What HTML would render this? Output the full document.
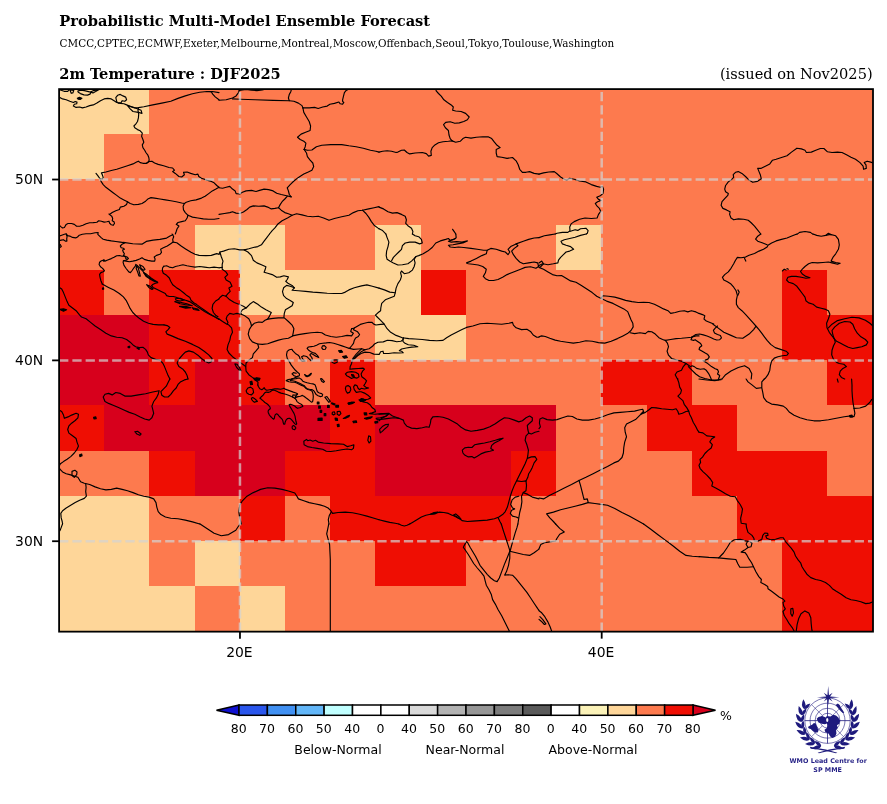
<!DOCTYPE html>
<html lang="en"><head><meta charset="utf-8"><title>Probabilistic Multi-Model Ensemble Forecast</title>
<style>html,body{margin:0;padding:0;background:#fff}svg{display:block}.sb{font-family:"DejaVu Serif","Liberation Serif",serif;font-weight:bold;font-size:14.58px;fill:#000}.sr{font-family:"DejaVu Serif","Liberation Serif",serif;font-size:14.58px;fill:#000}.ss{font-family:"DejaVu Serif","Liberation Serif",serif;font-size:10.4px;fill:#000}.tk{font-family:"DejaVu Sans","Liberation Sans",sans-serif;font-size:13.9px;fill:#000}.cb{font-family:"DejaVu Sans","Liberation Sans",sans-serif;font-size:12.5px;fill:#000}.lg{font-family:"DejaVu Sans","Liberation Sans",sans-serif;font-weight:bold;font-size:6.4px;fill:#231f85}</style></head><body>
<svg width="887" height="804" viewBox="0 0 887 804">
<rect width="887" height="804" fill="#fff"/>
<text class="sb" x="59.3" y="26" style="font-size:14.62px">Probabilistic Multi-Model Ensemble Forecast</text>
<text class="ss" x="59.6" y="47">CMCC,CPTEC,ECMWF,Exeter,Melbourne,Montreal,Moscow,Offenbach,Seoul,Tokyo,Toulouse,Washington</text>
<text class="sb" x="59.3" y="78.7">2m Temperature : DJF2025</text>
<text class="sr" x="872.6" y="78.7" text-anchor="end">(issued on Nov2025)</text>
<g shape-rendering="crispEdges">
<rect x="59.1" y="89.1" width="813.9" height="542.55" fill="#fd7a4e"/>
<rect x="59.10" y="88.90" width="90.38" height="45.20" fill="#fed699"/>
<rect x="59.10" y="134.10" width="45.19" height="45.20" fill="#fed699"/>
<rect x="194.67" y="224.50" width="90.38" height="45.20" fill="#fed699"/>
<rect x="375.43" y="224.50" width="45.19" height="45.20" fill="#fed699"/>
<rect x="556.19" y="224.50" width="45.19" height="45.20" fill="#fed699"/>
<rect x="59.10" y="269.70" width="45.19" height="45.20" fill="#ef0e03"/>
<rect x="149.48" y="269.70" width="90.38" height="45.20" fill="#ef0e03"/>
<rect x="239.86" y="269.70" width="180.76" height="45.20" fill="#fed699"/>
<rect x="420.62" y="269.70" width="45.19" height="45.20" fill="#ef0e03"/>
<rect x="782.14" y="269.70" width="45.19" height="45.20" fill="#ef0e03"/>
<rect x="59.10" y="314.90" width="90.38" height="45.20" fill="#d7001c"/>
<rect x="149.48" y="314.90" width="90.38" height="45.20" fill="#ef0e03"/>
<rect x="375.43" y="314.90" width="90.38" height="45.20" fill="#fed699"/>
<rect x="782.14" y="314.90" width="90.38" height="45.20" fill="#ef0e03"/>
<rect x="59.10" y="360.10" width="90.38" height="45.20" fill="#d7001c"/>
<rect x="149.48" y="360.10" width="45.19" height="45.20" fill="#ef0e03"/>
<rect x="194.67" y="360.10" width="45.19" height="45.20" fill="#d7001c"/>
<rect x="239.86" y="360.10" width="45.19" height="45.20" fill="#ef0e03"/>
<rect x="330.24" y="360.10" width="45.19" height="45.20" fill="#ef0e03"/>
<rect x="601.38" y="360.10" width="90.38" height="45.20" fill="#ef0e03"/>
<rect x="827.33" y="360.10" width="45.19" height="45.20" fill="#ef0e03"/>
<rect x="59.10" y="405.30" width="45.19" height="45.20" fill="#ef0e03"/>
<rect x="104.29" y="405.30" width="225.95" height="45.20" fill="#d7001c"/>
<rect x="330.24" y="405.30" width="45.19" height="45.20" fill="#ef0e03"/>
<rect x="375.43" y="405.30" width="180.76" height="45.20" fill="#d7001c"/>
<rect x="646.57" y="405.30" width="90.38" height="45.20" fill="#ef0e03"/>
<rect x="149.48" y="450.50" width="45.19" height="45.20" fill="#ef0e03"/>
<rect x="194.67" y="450.50" width="90.38" height="45.20" fill="#d7001c"/>
<rect x="285.05" y="450.50" width="90.38" height="45.20" fill="#ef0e03"/>
<rect x="375.43" y="450.50" width="135.57" height="45.20" fill="#d7001c"/>
<rect x="511.00" y="450.50" width="45.19" height="45.20" fill="#ef0e03"/>
<rect x="691.76" y="450.50" width="135.57" height="45.20" fill="#ef0e03"/>
<rect x="59.10" y="495.70" width="90.38" height="45.20" fill="#fed699"/>
<rect x="239.86" y="495.70" width="45.19" height="45.20" fill="#ef0e03"/>
<rect x="330.24" y="495.70" width="180.76" height="45.20" fill="#ef0e03"/>
<rect x="736.95" y="495.70" width="135.57" height="45.20" fill="#ef0e03"/>
<rect x="59.10" y="540.90" width="90.38" height="45.20" fill="#fed699"/>
<rect x="194.67" y="540.90" width="45.19" height="45.20" fill="#fed699"/>
<rect x="375.43" y="540.90" width="90.38" height="45.20" fill="#ef0e03"/>
<rect x="782.14" y="540.90" width="90.38" height="45.20" fill="#ef0e03"/>
<rect x="59.10" y="586.10" width="135.57" height="45.20" fill="#fed699"/>
<rect x="239.86" y="586.10" width="45.19" height="45.20" fill="#fed699"/>
<rect x="782.14" y="586.10" width="90.38" height="45.20" fill="#ef0e03"/>
</g>
<clipPath id="mc"><rect x="59.1" y="89.1" width="813.9" height="542.55"/></clipPath>
<g clip-path="url(#mc)" fill="none" stroke="#000" stroke-width="1.15" stroke-linejoin="round" stroke-linecap="round">
<path d="M59.0 97.1L62.6 98.9L66.2 99.8L69.8 101.3L73.4 102.5L75.2 101.6L77.0 102.0L76.7 103.8L74.3 104.3L73.4 106.1L76.1 107.4L79.7 107.0L82.4 107.9L86.1 107.0L89.7 105.6L93.3 104.9L96.9 103.1L100.5 100.7L104.1 98.9L107.7 98.4L111.3 98.9L114.9 101.3L116.7 102.5L120.3 103.4L123.9 103.8L126.6 104.9L128.4 105.6L131.2 107.0L134.8 107.9L138.4 107.6L143.8 106.7L152.8 104.9L161.8 103.1L170.8 101.3L178.0 98.4L185.3 95.9L192.5 93.7L199.7 92.2L206.9 91.5L211.4 91.9L212.7 94.1L215.2 96.9L219.0 99.8"/>
<path d="M206.9 91.5L212.3 91.5L219.0 92.6"/>
<path d="M116.4 100.2L115.8 97.7L117.6 95.3L120.3 94.4L123.0 95.9L125.7 97.1L126.6 99.8L124.8 101.3L122.1 100.7L121.2 102.5L118.5 103.1L116.7 101.6Z"/>
<path d="M127.5 105.6L130.2 108.8L133.0 111.5L138.4 112.4L142.0 113.4L141.1 110.3L136.6 108.5L132.1 106.7Z"/>
<path d="M138.4 107.9L138.0 110.6L138.7 114.3L138.4 117.9L137.5 121.5L135.7 124.2L133.9 126.0L134.8 127.8L137.5 129.6L140.2 130.8L142.3 133.2L141.6 136.3L142.9 139.5L143.8 142.2L142.3 144.9L142.9 147.6L144.7 150.3L145.9 152.5L147.7 154.8L148.8 157.5L149.2 160.2L147.7 162.6L146.5 163.3"/>
<path d="M96.0 173.4L97.8 175.6L99.6 178.3L102.3 179.2L103.2 177.4L102.3 174.7L101.4 172.9L105.9 172.0L111.3 170.5L116.7 169.3L122.1 167.5L127.5 165.7L133.0 163.9L136.6 162.1L138.4 161.2L140.2 162.6L142.9 163.3L146.5 163.3L149.2 161.5L151.9 161.2L154.6 163.0L158.2 164.4L163.6 165.7L169.0 167.5L172.6 168.0L174.4 170.2L172.6 171.6L175.3 173.4L178.9 176.5L181.7 177.0L184.4 174.7L183.5 172.3L187.1 172.0L190.7 173.4L195.2 174.7L197.9 174.1L198.8 176.5L201.5 178.3L206.9 180.1L211.4 181.4L214.1 182.8L216.8 185.5L219.0 187.3"/>
<path d="M99.6 178.3L101.4 181.9L103.2 184.6L105.9 187.3L109.5 190.0L113.1 192.7L116.7 195.4L120.3 198.1L123.9 199.9L127.5 201.7L130.2 203.5L133.9 204.8L138.4 204.4L142.0 203.5L145.6 201.2L148.3 198.7L151.0 197.6L154.6 198.1L160.0 199.0L165.4 199.9L170.8 200.8L176.2 201.7L181.7 203.0L184.4 203.5"/>
<path d="M219.0 187.3L215.9 189.1L212.3 190.9L208.7 193.6L205.1 196.3L201.5 198.1L196.1 199.9L190.7 200.8L186.2 202.3L184.4 203.5L183.1 206.2L183.5 209.9L185.3 212.6L188.0 215.3L192.5 217.1L197.9 218.0L203.3 218.9L208.7 219.2L214.1 219.2L219.0 218.5"/>
<path d="M188.0 215.3L187.1 218.0L185.3 220.7L181.7 221.6L178.0 222.5L176.2 224.3L178.9 226.1L177.1 228.8L176.2 231.5L175.3 234.0"/>
<path d="M127.5 201.7L126.6 204.4L123.9 206.2L120.3 207.1L119.4 209.5L115.8 210.8L112.2 212.6L109.5 214.4"/>
<path d="M219.0 100.2L226.2 99.8L232.5 98.0L236.1 95.9L238.5 92.6L239.2 90.4L240.3 89.5"/>
<path d="M239.2 90.4L246.1 89.5L251.5 90.1L256.9 90.6L262.3 89.9L265.9 89.0"/>
<path d="M232.5 98.9L240.6 99.3L255.1 99.8L273.1 100.4L289.3 100.7L293.9 101.3L298.4 103.1L302.0 105.6L302.9 107.9"/>
<path d="M289.3 100.7L288.4 98.0L289.3 94.4L290.8 91.7L291.5 89.0"/>
<path d="M302.9 107.9L309.2 107.9L314.6 107.4L318.2 108.5L322.7 107.0L327.2 106.1L329.9 104.3L334.4 103.4L338.9 102.0L340.2 103.8L342.6 104.2L343.8 102.5L342.6 101.3L342.6 99.8L343.5 96.2L344.4 92.6L346.2 90.4L348.9 89.0"/>
<path d="M302.9 107.9L303.8 112.4L306.5 117.0L309.2 121.5L310.6 126.0L310.1 130.5L305.6 132.3L301.1 134.1L297.5 137.3L300.2 139.5L303.8 141.3L305.9 143.1L305.2 146.7L304.1 149.4"/>
<path d="M304.1 149.4L307.4 150.3L311.9 150.0L316.4 146.7L321.8 145.3L330.8 144.6L341.7 144.6L348.9 145.8L356.1 146.7L363.3 148.2L370.5 150.3L375.9 151.2L379.0 152.1"/>
<path d="M304.1 149.4L306.5 153.0L307.4 156.6L310.1 160.2L312.8 163.0L313.7 166.6L311.9 170.2L308.3 172.0L303.8 174.1L298.4 177.4L293.9 181.0L290.2 184.6L287.2 187.8L288.4 190.9L289.3 194.5L291.2 196.9"/>
<path d="M219.0 187.8L222.6 188.2L226.2 187.3L229.8 186.4L232.5 189.1L235.2 190.9L236.1 193.6L239.7 194.0L242.4 192.2L246.1 190.9L251.5 190.4L256.0 191.5L259.6 190.4L264.1 189.1L268.6 189.6L273.1 190.9L276.7 193.3L281.2 194.5L286.6 195.8L291.2 196.9"/>
<path d="M287.2 196.3L284.8 199.0L282.1 201.7L280.3 204.4L278.5 207.7"/>
<path d="M219.0 214.4L224.4 213.5L229.8 212.6L232.5 211.7L236.1 213.1L239.7 213.5L243.4 212.0L247.0 209.5L249.7 207.1L253.3 205.9L258.7 206.2L264.1 205.9L267.7 207.1L271.3 208.9L274.9 208.4L278.5 207.7"/>
<path d="M278.5 207.7L281.2 210.2L284.8 212.6L288.4 213.8L292.1 215.3L296.6 213.8L302.0 214.9L307.4 216.2L312.8 216.7L318.2 216.2L323.6 218.0L329.0 220.3L334.4 218.5L341.7 216.7L348.9 215.3L353.4 212.6L357.9 210.8L362.4 210.2L368.7 208.9L374.1 207.7L379.0 206.6"/>
<path d="M292.1 215.3L287.5 218.0L282.1 220.7L277.6 224.3L274.9 227.9L272.2 230.6L269.5 234.0"/>
<path d="M362.4 210.2L366.0 213.5L368.7 217.1L371.4 221.6L374.1 225.2L377.7 227.9L379.0 228.8"/>
<path d="M379.0 152.1L382.6 151.2L387.1 150.7L391.6 151.2L396.1 152.5L397.9 152.1L401.5 150.3L404.3 150.0L407.0 152.5L409.7 153.9L415.1 153.0L422.3 152.5L426.3 153.6L428.6 156.1L431.3 155.4L430.9 151.2L432.2 147.6L434.9 144.9L438.5 142.8L443.0 141.7L448.4 141.3L452.1 140.9"/>
<path d="M435.8 89.5L436.4 91.2L438.5 93.5L441.2 96.2L443.9 99.8L447.5 102.5L451.2 104.9L453.3 107.0L452.6 110.3L455.7 111.0L461.1 111.5L465.6 113.4L469.2 117.0L467.4 119.7L463.8 121.5L459.3 122.9L454.8 123.3L450.2 121.8L445.7 122.4L443.6 124.7L445.4 127.8L448.4 130.5L449.0 135.0L450.2 138.6L452.1 140.9"/>
<path d="M452.1 140.9L455.7 142.2L460.2 141.3L462.9 138.6L465.6 137.3L471.0 138.1L476.4 137.3L482.7 136.8L488.1 136.8L491.7 138.6L494.4 142.2L497.1 145.3L500.2 147.6L496.2 149.4L496.2 153.0L497.1 156.6L501.7 157.2L507.1 158.4L512.5 157.5L516.1 160.8L518.2 164.8L519.7 169.3L522.4 172.3L526.0 172.3L529.6 171.6L534.1 173.4L539.0 174.1"/>
<path d="M379.0 207.1L383.5 208.9L388.0 211.7L392.5 213.1L397.0 212.6L401.5 214.4L405.2 216.2L406.4 219.8L405.7 223.4L407.9 225.7L411.5 228.2L412.9 231.5L412.4 234.0"/>
<path d="M379.0 228.8L382.6 230.6L385.3 233.3L385.9 234.0"/>
<path d="M452.6 229.3L454.4 231.9L455.8 234.0"/>
<path d="M539.0 174.1L543.5 172.9L548.9 172.0L554.3 171.6L557.0 173.8L560.6 177.0L564.3 179.2L567.0 180.1L569.7 178.3L574.2 179.2L579.6 181.0L585.9 181.9L591.3 184.6L596.7 186.4L600.3 187.3L602.5 186.4L603.6 189.1L603.0 193.3L600.3 195.8L596.7 197.2L598.5 199.4L601.2 200.5L597.6 201.7L595.3 203.5L597.1 206.2L599.4 208.4L600.7 211.3L598.5 214.4L597.1 218.0L591.3 218.5L585.0 218.0L579.6 219.2L574.2 221.6L571.1 223.9L569.7 227.0L570.0 230.6L567.9 232.4L562.4 232.4L557.0 233.3L555.2 234.0"/>
<path d="M569.7 231.5L575.1 229.7L577.8 230.4L580.5 228.8L585.9 228.2L588.1 230.6L587.3 233.3L586.3 234.0"/>
<path d="M760.8 234.0L758.1 230.6L754.5 226.1L750.9 222.5L748.2 220.3L743.7 219.2L738.3 218.9L733.7 219.8L731.0 218.0L729.6 214.4L730.1 211.7L726.5 209.9L722.9 208.4L721.1 205.3L722.0 201.7L724.7 198.7L727.8 195.4L728.3 193.6L725.6 191.8L724.7 189.1L725.6 185.5L728.3 181.9L731.9 179.2L733.7 177.4L733.2 174.7L735.5 172.3L738.3 171.6L741.9 173.4L745.5 176.5L749.1 180.1L752.7 182.3L757.2 181.4L761.3 178.8L760.3 174.7L759.0 171.6L757.7 168.4L760.8 168.4L765.3 166.2L769.8 163.9L772.5 160.2L776.1 159.3L781.5 157.5L787.0 155.7L791.5 152.1L796.9 148.2L801.4 148.9L805.0 150.3L806.4 152.5L811.3 152.1L815.8 150.3L820.3 148.5L823.9 148.5L827.5 151.8L832.0 152.5L837.5 152.1L842.0 152.5L846.5 154.8L851.0 157.2L855.5 159.3L860.0 162.6L863.1 166.2L863.6 169.3L866.3 168.4L866.0 164.8L864.2 162.6L867.2 161.2L870.8 162.1L873.0 163.0"/>
<path d="M59.0 224.8L60.8 226.6L62.6 228.0L64.4 227.5L66.2 224.4L68.0 223.5L71.6 223.5L74.3 224.4L76.6 226.2L79.7 226.2L82.9 225.3L86.1 223.7L89.7 222.8L93.3 222.6L96.9 222.3L98.7 220.8L101.4 221.2L104.1 222.1L106.8 221.7L109.0 221.2L109.5 223.0L111.3 224.8L113.1 225.3L114.5 223.5L114.0 221.7L112.2 220.8L112.7 218.5L111.8 216.3L109.9 214.9L109.0 214.0"/>
<path d="M59.0 236.1L61.7 235.2L64.4 234.3L66.2 233.8L67.6 235.6L69.8 236.1L72.5 237.4L75.7 237.9L77.5 237.0L79.3 235.2L82.4 234.3L86.1 233.8L90.6 233.7L95.1 232.8L98.2 232.5L97.8 234.3L99.6 236.1L101.4 237.9L103.2 239.2L106.8 240.1L111.3 240.9L115.8 241.5L120.3 242.1L124.8 242.7"/>
<path d="M59.0 240.6L61.3 240.1L63.5 239.7L65.3 241.1L66.9 241.1L66.7 238.8L67.1 236.5L66.2 234.0"/>
<path d="M59.0 243.8L60.4 244.7L61.3 246.5L59.9 247.4L59.0 246.9"/>
<path d="M124.8 242.7L122.1 244.2L120.3 246.0L121.2 247.8L123.5 248.3L124.4 249.2L122.6 250.1L123.2 251.9L124.4 253.7L123.5 255.5L125.3 256.4L127.5 257.3L128.4 258.6L127.1 259.5L125.7 258.6"/>
<path d="M102.3 284.0L100.9 280.7L100.0 277.1L99.6 274.4L100.9 272.6L103.2 271.7L104.5 270.8L103.6 269.5L102.3 268.1L100.5 266.8L99.1 264.5L99.6 262.2L101.4 260.7L103.6 260.2L105.0 261.1L107.7 260.0L111.3 258.6L114.0 257.3L116.7 255.7L119.4 255.5L122.1 256.2L123.9 255.9L125.7 257.3"/>
<path d="M103.0 260.2L104.1 259.8L104.4 260.9L103.4 261.1Z" fill="#000"/>
<path d="M123.4 242.4L132.8 243.7L142.3 244.1L146.3 241.4L153.1 240.1L159.9 239.4L166.6 238.1L170.0 236.0L172.7 234.7L172.1 234.0"/>
<path d="M123.4 260.8L126.1 261.1L129.4 261.7L132.8 261.1L136.2 260.4L139.6 259.0L142.0 257.7L144.3 259.4L147.7 260.4L151.8 261.1L154.7 261.1L155.1 259.0L154.2 257.0L156.5 255.4L159.9 254.3L161.5 252.3L160.6 249.2L163.3 247.8L167.3 245.9L170.7 243.7L173.1 242.1L172.7 239.4L173.7 236.7L172.7 234.7"/>
<path d="M173.1 242.1L176.8 242.8L181.5 246.2L185.6 248.9L191.0 252.3L195.0 254.3L199.1 255.4L205.9 255.6L211.3 255.4L216.7 253.6L219.0 254.3"/>
<path d="M126.7 260.0L123.4 260.8L123.1 262.4L124.0 265.4L126.1 268.5L128.8 271.9L130.4 272.6L132.1 270.5L133.9 267.8L135.3 266.2L135.8 264.4L137.6 265.8L139.6 267.8L142.3 270.5L144.3 273.2L147.0 275.9L149.7 278.0L152.4 279.7L155.8 281.3L157.8 282.7L155.5 283.2L153.1 284.3L151.5 285.7L153.1 287.4L157.2 289.5L161.2 291.5L165.3 293.5L166.6 295.6L169.3 296.5L173.4 296.5L176.1 297.3L180.2 298.7L185.6 300.3L189.6 301.6L193.7 304.3L197.8 307.1L200.5 308.7L204.5 311.4L209.9 314.4L215.3 317.1L219.0 319.0"/>
<path d="M163.9 266.2L162.6 267.8L162.3 270.5L163.3 273.2L166.6 275.3L169.3 278.0L170.7 281.3L172.7 284.7L176.1 287.4L180.2 290.1L183.6 292.8L186.9 295.6L189.9 297.6L191.0 300.3L193.7 302.7L196.7 304.6L200.2 307.1L204.2 310.0L208.8 313.3L213.7 316.3L219.0 319.5"/>
<path d="M163.9 266.2L166.6 265.8L169.3 267.1L172.7 267.8L175.4 266.5L178.8 265.8L182.9 264.8L186.9 265.8L191.0 266.5L195.0 267.1L199.8 266.5L204.5 267.1L209.3 267.8L214.0 267.1L219.0 267.8"/>
<path d="M219.0 298.9L215.6 301.0L212.9 304.3L212.1 308.4L213.4 312.5L215.6 315.2L218.0 316.8"/>
<path d="M139.6 264.8L143.0 266.5L145.0 269.4L143.6 270.3L141.2 268.5Z"/>
<path d="M136.6 265.8L138.2 267.8L139.3 271.9L140.3 276.2L138.9 275.9L137.6 271.9L136.2 268.5Z"/>
<path d="M143.6 272.6L147.0 274.6L151.1 278.0L155.1 280.7L157.4 282.0L154.5 281.6L150.4 279.3L146.3 276.6Z"/>
<path d="M146.6 284.7L149.7 286.1L153.1 288.8L152.0 289.5L148.8 287.4Z"/>
<path d="M175.4 298.7L180.2 298.3L184.2 300.0L180.2 301.0L176.1 300.3Z"/>
<path d="M174.8 301.6L180.2 302.3L186.9 303.7L192.3 305.7L186.9 305.0L180.2 303.7Z"/>
<path d="M179.5 306.4L185.6 306.4L191.0 307.7L185.6 308.1Z" fill="#000"/>
<path d="M192.3 307.7L197.8 309.1L199.1 310.4L193.7 309.5Z"/>
<path d="M102.2 284.1L108.5 287.4L113.9 290.1L119.3 293.5L123.4 296.9L126.1 300.3L128.1 304.3L130.1 308.4L132.8 312.5L136.2 315.8L139.6 318.6L143.6 321.3L148.4 323.3L153.1 324.4L158.5 324.9L163.9 324.9"/>
<path d="M102.5 288.1L103.6 287.8L103.6 289.2L102.5 289.2Z" fill="#000"/>
<path d="M59.0 287.2L61.7 289.0L63.5 292.6L65.3 297.1L67.1 301.6L68.9 305.2L72.5 308.0L76.1 310.7L79.7 315.2L81.5 317.0L86.1 318.8L90.6 322.4L95.1 326.0L100.5 329.6L105.9 333.2L111.3 335.9L116.7 337.2L122.1 337.7L126.6 339.5L130.2 342.2L133.0 344.9L135.7 346.7L139.3 347.6L142.9 347.3L145.6 349.4L147.4 352.1L148.3 354.9L151.0 357.6L155.5 359.4L160.0 360.3L162.7 363.0L164.5 366.6L166.3 371.1L168.1 375.6L169.9 379.0"/>
<path d="M164.0 324.9L167.2 325.6L169.9 327.4L168.1 329.6L165.8 331.8L167.2 334.1L171.7 335.9L178.0 338.6L185.3 341.3L192.5 344.4L198.8 347.6L204.2 351.2L208.7 354.9L212.0 358.5L211.4 361.7L208.7 363.0L205.1 361.2L201.5 358.5L197.9 355.2L193.4 352.1L188.9 350.9L185.3 352.1L182.6 354.9L179.5 358.5L177.1 363.0L178.9 366.6L182.6 368.9L185.3 372.0L187.1 375.6L188.0 379.0"/>
<path d="M59.9 309.4L63.5 308.9L66.6 309.8L63.5 311.2Z" fill="#000"/>
<path d="M128.1 346.6L129.7 346.2L129.7 347.6L128.1 347.6Z" fill="#000"/>
<path d="M136.9 348.0L139.1 347.6L139.1 349.4Z" fill="#000"/>
<path d="M269.5 234.0L266.8 237.6L264.1 241.2L261.4 244.8L257.8 246.6L253.3 247.5L248.8 248.8L244.3 249.9"/>
<path d="M219.0 254.2L219.9 252.0L223.5 251.1L228.9 249.3L234.3 248.8L239.7 249.9L244.3 249.9"/>
<path d="M244.3 249.9L247.9 252.0L251.5 255.6L253.3 260.2L256.9 262.9L261.4 264.7L265.9 266.8L265.0 270.1L264.1 272.2L267.7 273.3L272.2 274.6L276.7 277.3L280.3 276.9L283.9 275.8L288.4 276.9L287.2 279.5L285.7 281.3L288.4 283.6L292.1 285.4L294.4 287.8L292.1 290.3L298.4 290.8L305.6 291.4L312.8 292.1L320.0 292.6L327.2 293.2L334.4 293.5L341.7 293.5L345.3 292.1L348.9 289.9L354.3 287.8L361.5 285.9L366.9 284.9L372.3 286.3L379.0 288.1"/>
<path d="M294.4 287.8L290.2 286.3L286.6 285.4L283.6 287.8L282.5 291.7L283.6 295.7L286.6 298.6L290.2 300.4L293.3 302.5L292.1 305.8L288.4 308.0L285.4 309.8L284.3 313.4L283.9 317.3"/>
<path d="M219.9 252.0L221.2 256.5L223.0 261.1L222.2 264.3L222.2 269.2L225.9 271.9L227.7 274.6L224.8 277.3L226.2 280.0L230.2 282.3L232.0 286.3L228.9 288.1L230.2 291.4L227.7 293.9L225.9 296.2L222.6 295.3L219.9 297.5L219.0 298.6"/>
<path d="M219.0 267.7L222.2 267.4"/>
<path d="M225.9 296.2L229.8 299.8L234.3 302.5L238.8 304.3L243.4 306.2L246.1 308.0L249.7 304.3L253.3 301.6L257.8 304.3L261.4 307.1L265.9 309.8L271.3 312.5L269.5 316.1L267.7 319.1"/>
<path d="M246.1 308.0L242.4 309.8L240.6 312.5L241.5 314.3L245.2 316.1L248.8 318.8L250.6 322.4L251.5 326.0L254.2 323.3L258.7 322.0L262.3 322.4L265.0 320.2L267.7 319.1L273.1 318.4L278.5 317.9L284.3 317.9L288.4 321.5L292.1 325.1L293.9 328.7L293.3 332.3L292.6 335.9L288.4 338.3L283.0 339.0L278.5 340.1L273.1 341.9L267.7 343.7L262.3 344.4L257.8 344.0"/>
<path d="M251.5 326.0L249.3 329.6L248.2 334.1L249.7 338.6L252.4 341.9L257.8 344.0L258.7 347.6L256.0 350.9L253.3 353.9L252.4 357.6L248.8 360.3L246.1 363.0L245.7 366.6"/>
<path d="M241.5 314.3L237.0 313.4L233.4 314.3L229.8 313.4L227.1 316.1L226.2 318.8L228.0 322.4L227.1 324.2"/>
<path d="M219.0 319.0L222.6 321.5L226.2 323.8L228.9 325.1L231.6 327.8L232.5 332.3L230.7 335.9L229.8 340.4L228.0 344.9L227.1 349.4L228.9 353.0L232.5 356.7L236.1 359.4L239.7 362.1L243.4 364.8L245.7 366.6L246.1 371.1L248.8 374.7L252.4 377.4L255.1 379.0"/>
<path d="M234.9 363.9L237.0 364.2L239.2 367.1L241.0 370.7L239.2 370.2L236.7 367.5Z"/>
<path d="M292.6 335.9L298.4 334.6L304.7 333.6L311.0 332.8L317.3 332.3L321.8 332.8L325.4 335.0L330.8 336.5L336.2 337.2L341.7 336.5L347.1 335.4L351.6 335.9L353.4 333.2L350.7 331.4L351.6 328.7"/>
<path d="M352.2 360.7L351.5 363.7L350.2 366.4L349.9 369.2L352.9 368.9L358.4 368.5L363.2 368.1L364.5 369.2L362.5 371.2L361.1 373.9L361.8 376.7L364.5 378.7L366.6 380.8L365.2 383.5L363.8 385.6L365.9 387.2L368.6 388.0L364.5 389.0L361.1 388.3L359.7 389.7L358.1 388.3L357.0 385.6L354.9 384.9L353.6 386.9L354.3 389.7L356.3 392.4L359.7 391.7L361.1 391.7L364.5 393.1L367.9 395.2L370.7 397.9L367.9 399.3L363.8 399.9L360.4 400.6L363.2 402.0L367.3 402.7L370.0 404.7L372.0 407.5L374.8 409.5L375.5 411.6L372.0 412.9L369.3 413.6L374.8 414.3L381.6 413.6L388.5 414.3L385.7 416.4L380.3 417.7L376.2 418.4L377.5 419.8L383.0 419.1L388.5 418.4L393.9 417.7L399.0 418.4"/>
<path d="M345.4 373.9L347.4 372.2L351.5 371.6L355.6 372.2L358.4 373.9L359.0 376.7L357.0 378.1L353.6 377.4L351.5 378.5L348.8 376.7L346.7 375.7Z"/>
<path d="M351.5 374.6L353.6 374.9L354.3 376.5L352.2 376.3Z" fill="#000"/>
<path d="M346.0 386.3L348.1 385.6L350.2 386.9L350.8 389.7L349.5 392.4L347.4 393.1L346.0 391.0L345.4 388.3Z"/>
<path d="M359.0 399.9L362.5 399.3L365.9 399.9L363.8 401.3L360.4 401.3Z" fill="#000"/>
<path d="M348.1 403.4L351.5 402.3L354.3 402.3L351.5 403.6L348.8 404.5Z" fill="#000"/>
<path d="M349.1 348.4L346.0 347.3L341.9 345.9L337.8 344.5L333.7 343.2L329.6 342.5L326.2 342.9L322.8 343.2L319.4 343.8L316.6 345.2L313.9 346.2L311.2 346.6L308.4 347.0L307.1 348.4L308.4 350.0L310.5 351.4L312.5 352.5L315.3 353.4L318.0 356.2L318.7 357.5L315.9 356.2L313.2 354.4L311.2 353.4L309.8 354.8L311.8 357.5L312.5 359.6L311.2 360.7L309.1 358.9L307.1 356.8L305.7 356.2L303.6 355.7L301.6 356.8L302.9 359.3L305.0 360.9L302.3 361.2L300.2 359.3L299.5 356.8L298.2 355.2L295.4 353.4L292.7 350.7L292.0 349.3L289.3 349.7L287.2 351.4L286.5 354.8L287.2 358.2L289.3 361.6L291.3 365.1L293.4 367.8L295.4 370.3L297.5 372.2L299.5 373.9L299.3 375.7L296.8 376.7L294.1 375.7L292.0 373.9L293.4 372.6L296.1 373.3"/>
<path d="M322.5 345.9L324.4 345.6L326.2 347.3L325.3 349.3L323.1 349.5L321.7 347.9Z"/>
<path d="M338.5 350.7L341.3 350.3L342.6 352.1L339.9 352.5Z" fill="#000"/>
<path d="M342.6 356.6L346.0 355.7L347.4 357.5L344.4 358.2Z" fill="#000"/>
<path d="M331.7 360.3L335.1 359.9L338.1 359.9L337.2 362.3L334.4 363.4L332.1 362.3Z"/>
<path d="M324.8 397.2L326.9 396.5L330.3 401.3L328.9 402.3Z"/>
<path d="M331.7 402.7L335.1 404.0L334.4 405.0L331.7 403.8Z" fill="#000"/>
<path d="M317.3 402.0L319.0 402.0L319.0 404.0L317.3 404.0Z" fill="#000"/>
<path d="M318.7 406.1L320.3 406.1L320.3 408.2L318.7 408.2Z" fill="#000"/>
<path d="M327.6 405.4L329.2 405.4L329.2 407.5L327.6 407.5Z" fill="#000"/>
<path d="M335.8 405.4L338.5 405.4L338.5 407.1L335.8 407.1Z" fill="#000"/>
<path d="M320.1 410.2L321.7 410.2L321.7 412.3L320.1 412.3Z" fill="#000"/>
<path d="M324.2 413.6L325.8 413.6L325.8 415.7L324.2 415.7Z" fill="#000"/>
<path d="M332.4 412.3L334.4 411.8L335.1 414.0L333.5 415.0L332.1 414.0Z"/>
<path d="M337.2 411.6L339.9 411.3L340.9 413.6L339.2 415.4L337.2 414.3Z"/>
<path d="M318.0 418.4L322.1 418.1L322.1 420.5L318.0 420.5Z" fill="#000"/>
<path d="M335.1 418.1L337.2 418.4L337.6 420.5L335.4 420.2Z" fill="#000"/>
<path d="M343.3 418.4L346.7 416.4L349.5 415.4L348.8 416.8L346.0 418.1Z"/>
<path d="M337.2 424.6L338.9 424.2L339.2 426.4L337.6 426.6Z" fill="#000"/>
<path d="M352.9 421.4L356.3 420.9L356.7 422.5L353.6 422.8Z" fill="#000"/>
<path d="M364.5 418.4L368.6 417.3L372.3 416.8L370.7 418.1L366.6 419.1Z" fill="#000"/>
<path d="M364.1 412.9L366.6 412.9L366.8 415.0L364.5 415.0Z" fill="#000"/>
<path d="M379.6 429.4L382.3 426.6L385.7 424.6L388.5 424.2L387.8 426.4L385.0 428.7L382.3 431.4L380.3 432.8Z"/>
<path d="M360.4 399.9L361.1 398.6L363.8 399.0Z" fill="#000"/>
<path d="M348.1 403.1L351.5 402.3L354.5 402.3L352.2 403.6Z" fill="#000"/>
<path d="M374.8 421.8L377.5 421.4L377.8 422.8L375.1 423.1Z" fill="#000"/>
<path d="M385.9 234.0L387.1 237.6L388.9 242.1L388.0 246.6L386.6 251.1L386.2 255.6L387.1 259.3L389.8 261.1L393.4 262.9L397.9 265.0L402.4 264.7L407.9 263.8L411.5 261.1L414.2 258.4L416.0 256.5"/>
<path d="M412.4 234.0L415.1 235.8L418.7 236.7L421.4 239.4L422.3 243.0L419.6 243.9L415.1 242.1L409.7 242.1L405.2 243.0L402.4 245.7L401.5 249.3L398.8 252.0L396.1 254.7L393.4 257.4L391.6 260.7"/>
<path d="M455.8 234.0L456.2 237.6L453.9 239.4L450.2 240.3L448.4 238.5L445.7 239.4L440.3 240.9L435.8 243.0L432.2 247.5L427.7 251.1L423.2 253.8L418.7 255.6L416.0 256.5L414.2 259.3L415.1 262.9L414.2 266.5L412.4 270.1L408.8 272.8L404.3 273.7L401.5 271.0L400.6 272.8L401.5 276.4L400.3 280.0L397.9 283.6L396.1 288.1L395.2 292.8L394.3 296.2L389.8 298.0L385.3 299.8L381.7 303.4L380.8 308.0L380.6 310.8L377.9 312.8L375.4 315.2L377.2 317.0L379.9 319.7L382.6 322.4L384.1 324.0L387.1 328.7L390.7 332.3L396.1 335.4L402.4 337.7L408.8 338.6L415.1 339.0L422.3 339.5L429.5 340.4L436.7 340.8L443.0 340.4L446.6 337.7L451.2 335.0L456.6 332.3L462.0 329.6L466.5 327.4L472.8 326.0L480.0 323.8L487.2 323.3L494.4 323.8L501.7 324.2L508.9 323.3L512.5 322.4L513.4 325.1L516.1 327.8L521.5 329.6L526.9 329.2L530.5 331.4L533.2 335.0L536.8 337.2L539.0 337.2"/>
<path d="M379.0 288.1L384.4 289.9L389.8 292.1L395.2 292.8"/>
<path d="M466.5 262.9L471.0 261.1L476.4 258.4L481.8 255.6L486.3 253.8L487.2 250.2L490.8 248.4L496.2 249.3L501.7 251.1L505.3 252.0L508.0 254.7L509.8 252.0L508.0 249.3L510.7 246.6L516.1 243.9L517.9 245.7L514.3 248.4L511.6 251.1L513.4 254.7L516.1 258.4L519.7 262.0L523.3 263.8L528.7 262.9L534.1 262.0L537.7 262.9L538.6 266.5L535.9 268.3L530.5 266.8L525.1 267.4L520.6 269.2L516.1 271.0L511.6 272.8L507.1 274.6L502.6 277.3L498.0 279.5L493.5 280.5L489.0 280.5L485.4 278.7L483.3 276.4L485.4 272.8L486.3 269.2L482.7 266.5L478.2 265.0L472.8 264.3L468.3 263.8Z"/>
<path d="M455.7 238.5L451.2 240.3L448.4 241.2L451.2 242.1L456.6 241.6L462.0 242.1L467.4 240.9L462.9 243.0L457.5 243.9L453.0 244.8L448.4 245.2L450.2 247.0L454.8 247.5L458.4 247.0L463.8 247.5L471.0 248.4L477.3 249.3L483.6 250.2L487.2 250.2"/>
<path d="M516.1 243.9L523.3 241.2L528.7 239.4L534.1 238.0L539.0 237.6"/>
<path d="M539.0 237.6L544.4 235.8L549.8 234.9L555.2 234.0"/>
<path d="M586.3 234.0L580.5 235.4L575.1 237.2L569.7 238.5L564.3 239.8L561.0 241.2L562.4 243.9L566.1 245.2L570.6 246.6L573.6 249.3L569.7 251.1L566.1 252.0L563.4 254.7L560.6 257.4L558.5 260.2L557.9 262.9L553.4 263.8L548.0 264.7L542.6 263.8L539.0 265.6"/>
<path d="M539.0 262.9L541.7 261.1L543.5 263.8L540.8 266.5L539.0 267.4L543.5 269.2L548.0 271.9L552.5 274.6L557.0 275.8L561.5 275.5L566.1 278.2L570.6 280.9L576.0 282.3L581.4 285.4L586.8 289.0L592.2 292.6L596.7 296.2L601.2 298.6L606.6 301.1L613.0 303.4L618.4 306.2L623.8 308.9L627.7 311.6L629.2 315.2L631.0 319.7L632.8 323.3L633.2 326.9L631.0 330.5L627.4 333.6L622.9 335.9L617.5 338.6L611.2 341.3L604.8 343.1L598.5 342.6L592.2 341.3L585.9 340.8L579.6 342.2L573.3 343.1L567.0 342.2L560.6 341.3L555.2 340.1L549.8 338.3L545.3 336.5L541.7 335.9L539.0 336.8"/>
<path d="M601.2 298.0L603.0 295.7L608.4 296.2L614.8 297.1L620.2 298.6L625.6 300.4L631.9 301.6L638.2 302.5L643.6 302.2L649.0 302.5L654.4 304.3L658.9 306.5L663.5 308.9L668.0 310.7L670.7 313.4L675.2 312.5L679.7 311.2L684.2 310.7L687.8 311.9L691.4 310.7L695.9 311.9L699.0 313.4"/>
<path d="M630.1 332.8L634.6 333.6L640.0 332.8L645.4 333.6L648.1 331.4L651.7 331.8L655.3 334.1L658.9 337.7L662.6 339.5L665.3 340.4L670.7 339.5L676.1 338.6L681.5 338.3L686.9 337.7L691.4 337.2L695.9 335.9L699.0 335.9"/>
<path d="M665.3 340.4L667.4 343.1L668.5 346.7L667.1 351.2L668.5 355.2L671.6 358.5L676.1 359.9L681.5 361.2L686.0 363.5L689.6 366.0"/>
<path d="M686.0 363.5L683.3 366.6L681.5 370.2L677.0 372.0L675.2 374.7L677.0 378.3L677.9 379.0"/>
<path d="M796.9 234.0L792.4 235.8L787.0 238.0L781.5 239.4L776.1 240.9L771.6 243.0L768.0 245.2L767.1 247.0L763.5 249.3L759.0 251.1L754.5 253.5L749.1 255.3L745.5 257.1L741.0 257.8L737.4 257.4L735.5 260.2L733.7 263.8L731.0 268.3L728.3 271.9L724.7 274.6L722.4 277.3L723.8 280.0L727.4 281.8L731.0 284.1L733.7 287.2L736.1 290.8L737.4 295.3L736.4 299.8L736.4 304.3L738.3 307.6L741.9 310.7L745.5 314.3L749.1 318.4L752.7 322.4L755.9 326.0L759.0 329.6L761.7 333.2L764.4 336.8L767.1 340.4L770.7 344.4L775.2 347.6L780.6 349.4L786.1 351.2L788.4 353.4L787.0 355.2L782.4 355.8L777.9 356.7L774.3 358.1L771.6 361.2L770.4 365.7L769.8 370.2L768.0 374.7L765.3 378.3L764.4 379.0"/>
<path d="M760.8 234.0L757.7 236.2L755.6 239.1L757.7 241.2L762.1 242.7L767.1 244.8"/>
<path d="M737.9 289.9L739.2 292.1L737.9 295.3"/>
<path d="M744.6 258.4L745.8 261.1"/>
<path d="M813.1 234.0L816.7 235.4L821.2 236.2L825.7 235.4L830.2 234.4L835.7 235.8L838.4 239.4L839.3 244.8L838.4 249.3L835.7 253.8L832.9 257.4L831.1 261.1L835.7 262.5L840.2 263.2L837.5 264.3L832.0 262.9L828.4 262.0L823.0 262.5L817.6 262.9L812.2 262.5L808.6 263.8L805.0 266.5L802.3 269.2L800.5 271.5L802.3 274.0L805.9 276.4L810.0 277.7L805.9 278.2L801.4 277.3L796.0 276.4L791.5 276.4L787.9 277.3L786.6 280.0L788.8 282.3L793.3 283.6L796.9 286.3L799.6 289.9L802.3 293.5L805.0 297.1L805.9 300.7L808.6 302.9L813.1 304.3L816.7 307.1L821.2 308.3L825.7 309.4L828.4 310.7L829.9 314.3L828.4 318.8L826.6 323.3L827.0 327.8L829.3 332.3L832.0 335.9L834.2 338.6"/>
<path d="M782.4 271.0L784.2 269.2L786.1 270.1"/>
<path d="M787.0 268.6L788.4 269.2"/>
<path d="M834.2 338.6L832.9 335.0L832.0 330.5L834.8 326.9L839.3 323.3L844.7 321.5L850.1 322.0L852.8 324.2L854.6 328.7L857.3 333.2L860.9 336.8L865.4 339.5L867.8 342.2L866.3 344.9L861.8 346.7L857.3 347.6L852.8 348.5L848.3 347.3L843.8 344.9L840.2 343.1L836.6 341.3L834.2 338.6"/>
<path d="M828.4 327.8L832.0 324.2L837.5 320.6L844.7 318.8L851.9 317.3L859.1 317.9L865.4 320.2L869.9 323.3L873.0 326.0"/>
<path d="M834.2 338.6L835.3 342.2L833.5 345.8L832.0 350.3L831.7 354.9L833.5 359.4L836.6 362.4L839.3 363.5L843.8 364.2L846.5 366.6L842.9 368.4L840.2 371.1L839.3 374.7L841.4 377.4L844.7 379.0"/>
<path d="M755.9 326.4L753.6 329.6L749.1 334.1L742.8 338.3L736.4 337.7L731.0 335.4L723.8 332.3L716.6 326.9L713.0 324.2"/>
<path d="M722.0 379.0L725.6 374.7L731.0 371.1L738.3 367.5L744.6 365.7L749.1 368.4L751.8 373.8L751.2 379.0"/>
<path d="M169.9 379.0L168.1 382.6L166.3 386.2L163.6 388.9L160.9 391.6L161.8 395.2L164.5 397.0L168.1 397.0L170.8 394.3L173.5 390.7L176.2 388.0L178.0 384.4L180.8 381.7L184.4 379.9L188.0 379.0"/>
<path d="M103.2 397.0L105.0 394.3L108.6 393.4L112.2 394.9L115.8 392.5L120.3 393.4L124.8 396.1L131.2 396.1L138.4 394.9L145.6 393.8L152.8 392.0L159.1 390.7L158.2 394.3L156.4 397.9L153.7 401.5L151.9 406.1L152.8 409.7L153.7 413.3L151.9 417.8L149.2 420.1L144.7 419.0L140.2 416.9L134.8 414.2L129.3 412.4L123.9 410.0L118.5 407.5L113.1 405.2L108.6 403.4L105.0 401.5Z"/>
<path d="M59.0 410.0L61.7 411.5L63.5 415.1L64.4 418.3L68.0 416.9L71.6 415.1L76.1 413.3L78.5 414.2L77.9 417.8L75.2 420.5L71.6 423.2L68.9 425.9L67.7 429.5L68.9 433.1L72.5 435.8L76.1 438.5L77.0 442.1L78.5 446.1L77.0 449.3L74.3 453.0L70.7 456.6L67.1 459.3L63.5 461.6L60.4 463.8L59.0 466.5L59.9 469.2L62.6 471.9L66.2 473.7L69.8 474.6L77.9 477.3L80.6 481.8L84.3 483.3L89.7 484.5L95.1 486.9L100.5 488.7L105.9 489.9L111.3 489.4L116.7 488.1L122.1 489.4L127.5 490.8L133.0 492.6L138.4 494.8L143.8 496.2L149.2 497.1L153.7 498.9L156.0 502.6L156.8 507.1L158.2 511.6L160.9 514.6L165.4 517.0L170.8 518.2L178.0 518.8L185.3 520.1L192.5 521.9L199.7 524.0"/>
<path d="M72.0 471.4L74.9 470.3L77.0 471.9L76.7 474.6L74.3 477.3L72.0 475.5Z"/>
<path d="M85.7 483.6L86.1 487.2L85.7 491.7L86.4 496.2L84.3 498.4L79.7 500.2L75.2 502.6L70.7 505.3L66.2 508.0L62.6 510.7L60.8 513.4L61.2 517.9L62.2 521.5L62.6 524.0"/>
<path d="M93.6 417.2L95.8 416.9L96.2 418.7L94.0 419.0Z" fill="#000"/>
<path d="M134.8 431.7L137.5 431.3L141.1 434.0L139.8 435.3L136.9 434.0Z"/>
<path d="M79.6 454.8L81.7 454.0L82.1 455.8L79.9 456.6Z" fill="#000"/>
<path d="M254.7 379.5L258.0 382.1L257.8 385.0"/>
<path d="M246.1 390.7L247.9 388.0L250.6 387.1L252.9 388.9L253.6 392.5L251.5 394.9L248.8 394.3L247.0 393.1Z"/>
<path d="M250.0 381.7L251.8 381.2L252.5 384.4L250.7 384.8Z" fill="#000"/>
<path d="M303.8 441.2L306.5 439.4L307.7 440.7L310.1 440.0L312.8 441.2L315.5 440.3L318.2 442.1L323.6 443.0L330.8 443.6L338.0 443.9L343.5 444.3L347.1 446.6L350.7 445.7L353.9 444.8L353.4 448.4L351.6 449.7L347.1 449.0L341.7 449.7L336.2 450.8L330.8 451.5L326.3 451.2L322.7 449.3L317.3 448.4L311.9 447.5L307.4 446.6L304.1 444.8Z"/>
<path d="M368.7 435.8L370.5 436.7L370.9 441.2L369.1 443.0L367.8 440.3Z"/>
<path d="M241.5 524.0L239.7 517.9L238.8 511.6L239.7 505.3L242.4 500.8L247.0 496.2L253.3 492.6L260.5 489.4L267.7 487.8L274.9 488.1L282.1 489.4L289.3 491.2L294.8 493.0L296.9 496.2L298.4 498.9L303.8 500.8L309.2 502.6L314.6 503.8L320.0 504.9L324.5 506.2L328.1 508.0L330.8 510.7L332.6 513.4L338.0 512.5L345.3 512.1L352.5 512.8L359.7 514.3L366.9 516.1L374.1 518.2L379.0 519.7"/>
<path d="M331.2 512.1L329.4 515.2L328.3 519.7L329.0 524.0"/>
<path d="M379.0 414.2L383.5 413.6L388.9 413.3L386.2 416.0L382.6 417.8L379.9 420.1L379.0 420.8"/>
<path d="M388.9 413.6L392.5 416.0L396.1 417.2L399.0 418.3L403.4 420.1L404.3 423.2L407.0 426.3L411.5 428.1L416.9 428.6L422.3 427.7L426.3 426.8L429.1 427.3L430.4 423.2L430.9 419.6L432.8 416.9L437.6 416.5L443.0 417.2L448.4 419.0L453.0 421.4L457.5 424.1L461.1 427.3L465.6 429.9L471.0 431.3L477.3 430.4L483.6 429.1L489.9 426.8L495.3 423.7L499.9 420.5L504.4 417.8L508.9 418.3L514.3 420.1L518.8 421.9L522.4 420.8L526.0 417.8L529.6 416.0L532.3 417.8L532.3 420.8L529.6 423.2L527.3 425.5L527.8 429.5L528.7 433.1L526.0 435.8L525.1 440.3L526.9 444.8L528.4 450.2L527.8 455.7L527.3 458.4L525.1 463.8L522.4 469.2L519.7 474.6L517.0 480.0L514.3 485.4L512.1 490.8L510.3 496.2L508.9 501.7L507.4 507.1L505.3 511.6L502.6 514.6L498.9 517.0L494.4 518.8L487.2 520.1L480.0 520.6L472.8 521.1L467.4 521.5L462.0 520.6L458.4 517.9L455.7 516.1L452.1 515.2L448.4 513.4L443.9 512.5L439.4 512.1L434.9 513.4L430.4 514.3L425.9 515.2L421.4 517.0L416.9 519.7L412.4 522.4L409.7 524.0"/>
<path d="M430.4 514.3L434.0 512.5L437.6 512.1L434.9 513.9Z" fill="#000"/>
<path d="M453.0 515.2L455.7 513.9L459.3 517.0L461.1 519.3L458.4 518.2Z"/>
<path d="M379.0 519.7L384.4 521.1L389.8 522.4L395.2 523.3L398.8 524.0"/>
<path d="M462.3 450.2L464.7 447.9L468.3 447.2L471.9 447.5L474.6 444.8L479.1 443.9L484.5 443.0L489.9 441.8L495.3 440.3L499.9 438.9L503.1 438.2L498.9 440.7L494.4 443.0L491.7 445.4L490.8 448.4L493.5 450.2L489.9 451.2L485.4 452.1L480.9 453.9L477.3 456.2L474.2 458.0L471.9 456.6L468.3 456.9L464.7 455.1L462.9 453.0Z"/>
<path d="M528.7 433.1L531.4 434.0L535.0 432.2L539.0 431.3"/>
<path d="M527.3 458.4L531.4 456.9L535.0 456.6L536.8 459.3L534.1 462.9L532.3 467.4L530.5 471.0L528.7 473.7L527.8 477.3L526.0 480.9"/>
<path d="M517.0 480.9L521.5 481.5L526.0 480.9L526.5 485.4L526.0 490.8L523.3 492.6L521.5 496.2L521.9 501.7L521.1 507.1L519.7 512.5L518.8 517.9L517.9 524.0"/>
<path d="M523.3 492.6L527.8 494.4L532.3 497.1L539.0 498.9"/>
<path d="M518.8 496.2L515.2 497.1L512.1 499.9L510.7 504.4L512.5 508.0L514.6 508.9L511.6 510.3L510.3 513.4L512.5 516.1L516.1 517.0L518.2 517.9"/>
<path d="M498.0 517.5L499.9 521.5L501.3 524.0"/>
<path d="M539.0 428.6L540.4 426.8L539.4 423.2L539.9 419.0L542.6 417.8L547.1 419.6L552.5 420.1L557.0 419.6L562.4 417.8L567.9 416.0L572.4 416.5L576.9 419.0L582.3 420.1L588.6 420.1L594.9 419.0L601.2 417.2L607.5 414.7L613.9 412.9L620.2 412.4L627.4 411.8L634.6 411.1L640.0 409.7L642.7 409.3L643.6 411.5L640.9 414.2L645.4 412.4L649.0 409.7L651.7 407.5L656.2 407.9L661.7 408.8L667.1 409.3L672.5 409.7L676.1 408.8L677.9 411.5L678.8 414.2L682.4 413.3L686.0 411.5L688.7 411.1"/>
<path d="M643.6 411.5L640.0 415.1L635.5 419.6L630.1 422.3L626.5 424.1L624.7 427.7L625.2 432.2L626.5 436.7L624.7 442.1L623.8 447.5L623.4 453.0L622.0 457.5L618.4 461.1L613.9 462.9L607.5 466.5L600.3 470.1L593.1 473.7L585.9 477.3L579.0 480.4L571.5 484.5L564.3 488.1L557.0 491.7L549.8 495.3L543.5 498.9L539.0 498.0"/>
<path d="M579.0 480.4L580.5 485.4L581.9 490.8L583.2 496.2L584.1 499.5L587.3 498.9L588.1 502.0"/>
<path d="M588.1 502.6L594.9 503.5L601.2 504.4L607.5 505.3L614.8 508.5L622.0 512.5L629.2 516.1L636.4 520.1L643.6 524.0"/>
<path d="M588.1 502.6L582.3 504.4L575.1 506.2L567.9 508.0L560.6 509.8L553.4 512.1L546.6 513.9L549.8 517.9L553.4 521.5L555.6 524.0"/>
<path d="M688.7 411.1L689.6 414.2L691.4 417.8L693.2 422.3L695.6 426.3L697.7 430.4L699.0 432.2"/>
<path d="M688.7 411.1L686.9 407.9L684.2 404.3L682.9 400.6L679.7 397.9L677.9 396.1L680.6 393.4L681.5 390.2L679.7 387.1L678.8 382.6L677.5 379.0"/>
<path d="M699.0 432.2L702.9 432.9L706.8 435.9L710.8 436.3L714.7 436.9L711.8 438.8L709.8 441.8L712.3 444.7L711.2 448.0L707.8 450.6L704.9 453.5L702.5 457.1L700.0 459.4L700.6 462.4L699.0 465.3L700.0 468.3L702.9 471.6L706.8 475.1L710.4 479.0L712.7 482.6L711.8 485.9L715.7 487.9L720.6 490.8L725.5 493.8L730.4 496.3L735.3 496.7L737.3 500.6L740.2 504.5L742.5 508.9L741.8 513.4L740.6 518.3L741.2 523.2L746.1 524.0"/>
<path d="M764.3 379.0L761.8 381.9L761.8 387.8L762.8 392.7L763.7 397.6L766.7 401.6L771.6 404.1L777.5 404.9L783.3 406.1L786.3 408.4L789.2 412.0L794.1 415.3L800.0 417.8L806.9 419.8L813.8 420.8L820.6 420.8L828.5 419.8L836.3 418.2L844.2 416.7L851.0 415.9L854.0 416.7L854.9 413.3L854.0 408.4L853.0 402.5L852.4 396.7L852.0 390.8L852.0 384.9L851.6 379.0"/>
<path d="M746.1 379.0L748.0 381.9L752.0 384.9L756.3 388.4L761.4 387.8"/>
<path d="M699.0 379.0L706.8 380.0L714.7 380.6L721.0 379.8"/>
<path d="M854.0 408.4L859.8 408.0L865.7 406.1L869.7 402.5L871.6 399.6L873.0 398.6"/>
<path d="M837.3 379.0L838.1 382.1"/>
<path d="M849.6 415.5L852.0 415.1L852.4 417.1L850.0 417.1Z" fill="#000"/>
<path d="M199.7 523.8L206.9 528.5L214.1 533.2L221.3 535.7L228.6 534.6L235.8 530.3L240.1 523.8"/>
<path d="M62.6 523.8L60.4 529.6L59.0 532.1"/>
<path d="M328.8 523.8L326.7 533.9L329.6 544.7L330.3 559.2L330.3 595.2L330.3 632.0"/>
<path d="M398.8 524.0L401.5 525.3L404.3 526.0L407.0 525.3L409.7 524.0"/>
<path d="M501.3 524.0L503.5 531.1L506.2 539.2L508.5 546.4L509.8 550.5"/>
<path d="M517.9 524.0L517.0 527.4L515.2 532.9L513.4 539.2L511.6 545.5L510.3 550.5L509.8 551.3"/>
<path d="M509.8 551.3L507.4 557.2L504.4 564.4L501.7 571.6L499.3 578.0L497.1 581.6L494.4 580.7L490.8 578.0L487.2 574.3L483.6 569.8L480.0 565.3L477.8 560.8L475.5 556.3L472.8 551.8L470.1 547.3L467.7 542.8L466.5 541.5L464.7 544.6L463.4 547.3L465.6 550.5L468.3 554.5L471.0 559.0L473.7 563.5L477.3 568.0L480.9 572.2L484.0 576.2L485.1 580.7L486.3 585.2L489.0 589.7L491.2 594.2L492.6 599.6L495.3 604.1L498.0 609.5L501.7 615.8L505.3 623.0L508.9 630.3L509.8 632.4"/>
<path d="M509.8 551.3L509.8 558.1L508.5 565.3L506.5 571.6L504.7 575.1L508.0 574.7L512.5 575.2L516.1 578.9L519.7 583.4L523.3 587.9L526.9 592.4L530.5 597.8L534.1 603.2L537.7 608.6L539.0 610.4"/>
<path d="M509.8 551.3L516.1 552.7L523.3 554.5L529.6 555.4L534.1 552.7L539.0 549.1"/>
<path d="M555.6 524.0L559.7 528.4L564.3 532.0L559.7 534.3L557.0 538.3L555.6 541.0L549.8 541.9L544.4 542.8L540.8 544.6L539.0 548.7"/>
<path d="M643.6 524.0L650.8 529.3L658.0 534.7L665.3 540.1L672.5 545.5L679.7 551.3L686.0 555.4L692.3 556.3L699.0 556.7"/>
<path d="M539.0 610.8L541.7 612.8L544.8 616.7L547.7 621.6L550.2 627.0L552.0 632.1"/>
<path d="M539.9 616.7L542.6 619.4L545.9 623.9L544.4 624.5L541.2 621.2L539.0 619.4"/>
<path d="M746.1 524.0L746.5 527.5L748.0 532.4L752.0 535.4L753.9 538.3L754.3 540.9L757.8 541.3L761.8 539.3L762.8 535.4L764.7 533.0L767.7 533.4L768.0 535.4L765.7 535.8L766.7 538.3L770.6 539.7L775.5 539.3L780.4 537.7L783.3 537.7L785.3 541.3L788.3 544.8L791.2 548.1L794.1 552.1L795.5 556.0L798.1 559.9L800.6 562.8L802.0 566.8L804.5 570.7L806.9 574.2L810.8 577.6L815.7 579.5L820.6 580.5L825.5 582.5L829.4 585.4L832.4 588.7L836.3 591.3L841.2 594.2L846.1 597.8L851.0 599.7L855.9 600.5L860.8 601.7L865.7 603.6L869.7 603.1L873.0 601.7"/>
<path d="M699.0 556.6L708.8 557.4L718.6 557.9L719.6 557.0L723.5 553.0L727.4 547.2L730.4 542.3L734.3 539.7L740.2 539.3L745.1 540.9L747.6 541.3L746.1 544.2L748.0 547.5L751.0 546.8L752.0 543.2L749.6 541.3L747.6 541.3"/>
<path d="M748.0 547.5L744.5 550.1L741.2 552.1L745.1 552.6L747.1 555.4L749.0 558.9L751.6 562.8L753.5 566.8L755.9 571.7L758.8 576.6L761.4 579.5L760.8 582.5L764.7 584.4L767.7 586.4L768.0 588.7L771.6 591.3L775.5 594.2L779.4 597.2L783.0 599.1L784.9 601.1L783.0 602.5L783.7 606.0L785.3 608.9L783.0 611.5L784.3 615.8L786.9 619.7L789.2 623.7L792.2 627.6L794.1 631.1"/>
<path d="M718.6 557.9L728.4 558.9L735.9 559.5L737.8 563.8L739.8 567.2L747.1 567.2L753.5 566.8"/>
<path d="M790.8 608.9L792.8 608.4L793.5 612.9L792.2 616.2L790.8 613.8Z"/>
<path d="M796.1 632.1L797.1 624.6L798.6 618.8L801.0 613.8L804.9 610.9L808.8 612.9L810.8 617.8L811.2 623.7L811.8 629.5L812.4 632.1"/>
<path d="M717.5 326.0L715.2 328.1L713.4 330.4L714.5 333.0L717.5 334.5L720.4 335.5L721.5 337.9L719.7 339.7L716.7 340.0L713.7 339.0L710.7 337.5L707.0 336.0L703.3 334.9L699.6 334.0L695.8 334.5L692.8 336.4L691.6 337.3"/>
<path d="M692.1 337.0L691.0 339.7L693.6 340.4L695.1 339.7L697.3 341.2L700.6 343.4L701.8 345.7L699.6 347.5L699.1 349.4L701.8 350.9L704.8 352.8L707.8 354.6L709.3 356.9L707.8 359.1L704.8 360.3L703.0 360.6L704.8 361.8L707.8 363.6L711.5 366.6L715.2 368.8L717.5 369.6L718.5 371.8L717.5 374.0L719.7 375.5L719.0 377.8L718.2 379.7"/>
<path d="M688.4 366.6L692.1 370.3L695.8 374.0L699.6 376.7L704.8 378.5L711.5 380.0L718.2 379.7L721.9 379.0"/>
<path d="M689.9 366.9L692.1 365.8L694.3 366.6L696.6 368.4L700.3 369.3L704.0 368.8L706.3 370.3L708.5 373.3L710.0 376.3L711.5 379.7"/>
<path d="M699.0 313.4L702.5 314.6L704.8 315.8L704.0 319.1L706.3 321.0L710.0 322.5L713.7 324.0"/>
<path d="M297.6 394.0L296.4 395.1L295.1 397.4L294.9 398.5L296.0 397.4L298.0 396.6L300.4 396.2L302.4 395.4L303.9 396.2L305.9 397.8L307.9 399.3L309.9 400.9L311.4 402.1L312.6 401.7L313.0 399.7L313.3 396.6L313.0 393.8L312.2 391.4L310.6 390.3L307.9 389.5L305.5 387.9L303.9 386.3L301.6 385.4L299.2 384.2L296.8 383.0L294.5 382.2L291.7 382.2L288.9 381.7L286.2 380.6L288.2 379.6L290.9 379.0L293.7 378.3L296.0 377.2L297.8 376.2"/>
<path d="M293.7 379.0L296.0 378.6L297.8 378.1L299.6 378.1L301.2 379.2L302.8 381.2L304.7 382.0L307.1 382.8L310.3 383.5L313.0 383.9L315.0 384.7L315.8 386.7L316.6 389.5L317.4 391.8L319.3 393.0L321.7 393.6L322.7 394.6L322.1 396.2L320.5 396.6L318.1 395.8L316.2 394.6L315.0 392.6L313.8 390.7L311.8 389.6L309.5 389.3L307.1 388.8L305.7 387.5L304.3 385.7L302.0 384.6L299.6 383.3L297.2 382.2L294.9 381.2L292.5 380.8L290.5 380.6L290.1 380.0L291.7 379.4Z"/>
<path d="M304.6 374.5L305.9 375.3L307.5 376.0L308.7 375.3L310.3 373.8L311.4 373.3L310.6 374.9L309.1 376.0L307.1 376.7L305.5 375.9Z"/>
<path d="M320.5 378.8L321.7 378.6L323.3 380.4L324.5 381.6L323.3 382.4L321.7 381.2Z"/>
<path d="M59.1 89.6L61.1 90.3L64.1 91.3L67.7 91.3L69.2 90.1L70.0 89.1"/>
<path d="M70.2 90.6L71.7 89.9L73.8 90.6L72.8 92.9L71.2 93.3Z"/>
<path d="M77.8 91.1L80.4 90.1L84.4 90.6L88.5 91.6L91.0 92.3L90.0 94.1L87.5 95.1L83.9 94.9L80.4 93.6L78.3 92.3Z"/>
<path d="M90.5 92.1L93.6 90.6L96.6 89.9L99.6 89.3L95.6 91.6L93.0 92.9Z"/>
<path d="M77.3 98.2L79.4 97.4L81.9 98.2L80.4 99.4L78.1 99.2Z" fill="#000"/>
<path d="M796.9 234.4L799.6 232.4L805.0 231.5L810.4 232.4L813.1 234.4"/>
<path d="M825.7 235.5L828.4 233.3L831.1 234.7"/>
<path d="M253.6 378.6L256.7 377.7L260.0 378.4L259.2 380.2L255.4 380.2Z" fill="#000"/>
<path d="M351.6 328.7L354.2 328.1L356.9 326.4L360.3 324.4L364.4 323.3L368.4 322.3L371.8 322.3L373.8 324.1L375.9 325.0L380.6 324.4L384.0 324.1"/>
<path d="M354.2 328.1L353.5 329.8L357.6 331.8L359.6 334.5L358.3 336.5L355.6 337.9L354.2 340.6L353.5 343.3L351.5 346.0L349.5 348.4"/>
<path d="M349.5 348.4L353.5 349.4L358.3 349.0L361.7 348.7L365.0 349.8L369.1 348.7L372.5 346.3L374.5 344.0L377.9 342.2L383.3 341.9L387.4 340.3L392.1 340.6L396.8 341.7L400.9 341.3L402.9 339.9L403.3 337.9"/>
<path d="M361.7 348.7L358.9 351.4L356.0 354.4L353.5 357.5L352.2 359.8L353.3 359.5L355.6 356.8L358.3 354.1L361.7 351.4L365.0 349.8"/>
<path d="M352.2 360.6L354.9 358.2L357.6 355.8L361.0 353.5L365.0 352.1L369.8 352.5L373.8 354.1L379.2 354.4L380.6 351.7L383.0 351.2L383.6 353.5L388.7 353.5L394.1 352.8L399.5 353.0L403.3 352.8L401.6 351.2L399.3 350.7L401.6 349.0L406.3 348.0L411.7 347.1L417.8 346.7L413.7 345.3L408.3 344.7L405.0 343.3L402.9 341.3L403.3 337.9"/>
<path d="M257.8 385.0L258.5 386.7L259.8 388.7L261.8 389.7L263.2 388.7L264.2 387.7L265.2 389.4L266.9 390.3L269.6 389.7L272.3 389.4L275.0 388.7L277.7 388.9L280.4 389.2L282.5 388.7L283.8 388.2L285.2 389.1L287.9 390.1L290.6 391.1L293.3 392.1L296.0 393.0L297.4 393.8L296.7 394.8L294.7 395.1L293.0 395.0"/>
<path d="M260.1 398.2L261.2 396.8L262.9 395.5L264.5 393.1L266.2 392.1L268.3 392.4L270.3 391.8L272.0 390.4L273.7 389.9L275.7 390.8L278.4 392.1L281.1 393.1L283.8 393.8L286.5 394.5L289.2 395.5L291.3 396.5L292.5 397.0L293.0 395.1"/>
<path d="M292.5 397.0L294.7 398.2L296.0 399.5L297.0 401.6L298.7 402.9L300.7 403.9L302.4 405.3L302.8 406.5L301.4 407.0L299.7 407.7L297.4 408.3L296.0 407.3L294.7 406.0L292.6 405.0L290.6 404.3L289.2 404.6L289.9 406.7L291.3 408.7L292.6 411.0L294.0 413.4L295.0 416.1L295.5 418.8L296.0 421.5L296.7 423.9L296.0 424.6L294.7 423.6L293.3 421.9L291.9 420.2L290.6 418.8L289.2 418.2L287.6 418.5L286.2 419.8L285.2 421.9L284.8 424.2L283.8 424.2L283.2 422.6L282.8 420.5L281.8 418.8L280.4 417.5L279.1 416.1L277.7 414.4L276.7 413.8L275.4 414.4L274.7 416.1L274.4 418.2L273.7 419.2L272.3 418.2L270.6 416.5L269.3 414.8L268.3 412.7L268.1 411.0L268.9 409.7L270.3 408.7L270.0 407.0L268.6 405.3L266.9 403.8L264.9 402.5L263.2 400.9L261.5 399.5L260.1 398.2"/>
<path d="M292.3 426.3L293.6 425.5L295.0 426.6L295.9 428.0L294.7 429.7L293.0 429.3L292.1 428.0Z"/>
<path d="M251.4 398.2L252.7 397.5L254.4 398.5L256.4 400.2L257.4 401.4L256.1 401.6L254.4 402.3L252.7 400.9L251.7 399.5Z"/>
</g>
<g stroke="#d3d3d3" stroke-opacity="0.7" stroke-width="2.5" stroke-dasharray="9.26 4.0" fill="none">
<path d="M239.97 631.65 V89.1"/>
<path d="M601.70 631.65 V89.1"/>
<path d="M59.1 179.52 H873.0"/>
<path d="M59.1 360.38 H873.0"/>
<path d="M59.1 541.22 H873.0"/>
</g>
<rect x="59.1" y="89.1" width="813.9" height="542.55" fill="none" stroke="#000" stroke-width="1.8"/>
<g stroke="#000" stroke-width="1.8">
<path d="M239.97 631.65 v7"/>
<path d="M601.70 631.65 v7"/>
<path d="M59.1 179.52 h-7"/>
<path d="M59.1 360.38 h-7"/>
<path d="M59.1 541.22 h-7"/>
</g>
<text class="tk" x="239.37" y="656.8" text-anchor="middle">20E</text>
<text class="tk" x="601.10" y="656.8" text-anchor="middle">40E</text>
<text class="tk" x="43.2" y="184.32" text-anchor="end">50N</text>
<text class="tk" x="43.2" y="365.18" text-anchor="end">40N</text>
<text class="tk" x="43.2" y="546.02" text-anchor="end">30N</text>
<g stroke="#000" stroke-width="1.5" stroke-linejoin="miter">
<path d="M239.0 705.0 L216.5 710.15 L239.0 715.3 Z" fill="#1010d0"/>
<path d="M693.0 705.0 L715.5 710.15 L693.0 715.3 Z" fill="#d7001c"/>
<rect x="239.00" y="705.0" width="28.38" height="10.30" fill="#2a56ec"/>
<rect x="267.38" y="705.0" width="28.38" height="10.30" fill="#4090f2"/>
<rect x="295.75" y="705.0" width="28.38" height="10.30" fill="#62b6f8"/>
<rect x="324.12" y="705.0" width="28.38" height="10.30" fill="#c0ffff"/>
<rect x="352.50" y="705.0" width="28.38" height="10.30" fill="#ffffff"/>
<rect x="380.88" y="705.0" width="28.38" height="10.30" fill="#ffffff"/>
<rect x="409.25" y="705.0" width="28.38" height="10.30" fill="#d9d9d9"/>
<rect x="437.62" y="705.0" width="28.38" height="10.30" fill="#b2b2b2"/>
<rect x="466.00" y="705.0" width="28.38" height="10.30" fill="#969696"/>
<rect x="494.38" y="705.0" width="28.38" height="10.30" fill="#7c7c7c"/>
<rect x="522.75" y="705.0" width="28.38" height="10.30" fill="#5a5a5a"/>
<rect x="551.12" y="705.0" width="28.38" height="10.30" fill="#ffffff"/>
<rect x="579.50" y="705.0" width="28.38" height="10.30" fill="#fbf2b8"/>
<rect x="607.88" y="705.0" width="28.38" height="10.30" fill="#fed699"/>
<rect x="636.25" y="705.0" width="28.38" height="10.30" fill="#fd7a4e"/>
<rect x="664.62" y="705.0" width="28.38" height="10.30" fill="#ef0e03"/>
</g>
<text class="cb" x="238.70" y="733" text-anchor="middle">80</text>
<text class="cb" x="267.07" y="733" text-anchor="middle">70</text>
<text class="cb" x="295.45" y="733" text-anchor="middle">60</text>
<text class="cb" x="323.82" y="733" text-anchor="middle">50</text>
<text class="cb" x="352.20" y="733" text-anchor="middle">40</text>
<text class="cb" x="380.57" y="733" text-anchor="middle">0</text>
<text class="cb" x="408.95" y="733" text-anchor="middle">40</text>
<text class="cb" x="437.32" y="733" text-anchor="middle">50</text>
<text class="cb" x="465.70" y="733" text-anchor="middle">60</text>
<text class="cb" x="494.07" y="733" text-anchor="middle">70</text>
<text class="cb" x="522.45" y="733" text-anchor="middle">80</text>
<text class="cb" x="550.83" y="733" text-anchor="middle">0</text>
<text class="cb" x="579.20" y="733" text-anchor="middle">40</text>
<text class="cb" x="607.58" y="733" text-anchor="middle">50</text>
<text class="cb" x="635.95" y="733" text-anchor="middle">60</text>
<text class="cb" x="664.33" y="733" text-anchor="middle">70</text>
<text class="cb" x="692.70" y="733" text-anchor="middle">80</text>
<text class="cb" x="720" y="719.5">%</text>
<text class="cb" x="338" y="753.5" text-anchor="middle">Below-Normal</text>
<text class="cb" x="465" y="753.5" text-anchor="middle">Near-Normal</text>
<text class="cb" x="593" y="753.5" text-anchor="middle">Above-Normal</text>
<g fill="none" stroke="#1e1a7d" stroke-width="0.6">
<circle cx="827.53" cy="720.64" r="22.72"/>
<circle cx="827.53" cy="720.64" r="17.48"/>
<circle cx="827.53" cy="720.64" r="12.42"/>
<circle cx="827.53" cy="720.64" r="7.36"/>
<path d="M827.53 697.18L827.53 743.45M804.72 720.64L850.26 720.64" stroke-width="0.8"/>
<path d="M832.74 725.84L843.60 736.71" stroke-width="0.5"/>
<path d="M822.33 725.84L811.47 736.71" stroke-width="0.5"/>
<path d="M822.33 715.43L811.47 704.57" stroke-width="0.5"/>
<path d="M832.74 715.43L843.60 704.57" stroke-width="0.5"/>
</g>
<g fill="#1e1a7d" stroke="none">
<path d="M816.68 718.80L818.52 716.96L822.20 716.04L825.88 717.42L826.80 716.04L830.48 716.50L833.24 714.66L836.00 715.58L838.30 717.42L840.14 720.64L839.22 723.86L836.92 725.24L837.84 728.00L836.00 729.84L836.46 733.52L835.08 736.74L832.32 738.12L830.02 736.28L828.64 733.52L825.42 732.14L824.50 729.84L826.80 728.00L828.18 725.24L826.80 723.40L824.96 724.32L821.74 723.86L818.52 722.48Z"/>
<path d="M807.94 727.08L809.78 725.70L812.08 724.78L813.92 722.94L815.76 723.40L816.68 725.70L817.60 728.00L818.52 730.76L817.60 732.41L814.84 732.14L812.54 730.76L810.70 728.92L808.86 728.46Z"/>
<path d="M835.54 705.00L837.84 703.62L839.68 705.00L841.06 707.76L842.90 710.52L844.28 712.82L842.90 713.09L841.06 711.44L839.22 709.60L837.38 707.30Z"/>
<path d="M828.18 685.96L828.95 695.31L832.60 692.76L830.05 696.40L839.40 697.18L830.05 697.95L832.60 701.60L828.95 699.05L828.18 705.28L827.40 699.05L823.75 701.60L826.31 697.95L816.95 697.18L826.31 696.40L823.75 692.76L827.40 695.31Z"/>
<path d="M821.19 746.08Q816.83 743.50 811.64 748.82Q818.86 750.57 821.19 746.08Z"/>
<path d="M821.19 746.08Q820.63 741.81 814.34 741.10Q816.96 746.87 821.19 746.08Z"/>
<path d="M814.98 743.66Q811.42 740.06 805.05 743.90Q811.60 747.42 814.98 743.66Z"/>
<path d="M814.98 743.66Q815.52 739.38 809.61 737.12Q810.69 743.35 814.98 743.66Z"/>
<path d="M809.59 739.75Q807.04 735.37 799.91 737.48Q805.36 742.54 809.59 739.75Z"/>
<path d="M809.59 739.75Q811.18 735.75 806.04 732.07Q805.50 738.37 809.59 739.75Z"/>
<path d="M805.35 734.61Q803.99 729.73 796.56 729.98Q800.56 736.24 805.35 734.61Z"/>
<path d="M805.35 734.61Q807.90 731.14 803.85 726.28Q801.75 732.25 805.35 734.61Z"/>
<path d="M802.54 728.57Q802.46 723.50 795.21 721.87Q797.49 728.94 802.54 728.57Z"/>
<path d="M802.54 728.57Q805.89 725.85 803.19 720.13Q799.65 725.37 802.54 728.57Z"/>
<path d="M801.35 722.01Q802.54 717.09 795.94 713.68Q796.37 721.10 801.35 722.01Z"/>
<path d="M801.35 722.01Q805.27 720.23 804.11 714.01Q799.36 718.19 801.35 722.01Z"/>
<path d="M801.85 715.37Q804.25 710.91 798.71 705.94Q797.26 713.23 801.85 715.37Z"/>
<path d="M801.85 715.37Q806.10 714.63 806.53 708.32Q800.89 711.17 801.85 715.37Z"/>
<path d="M804.01 709.06Q807.45 705.35 803.35 699.15Q800.11 705.84 804.01 709.06Z"/>
<path d="M804.01 709.06Q808.30 709.42 810.32 703.42Q804.13 704.76 804.01 709.06Z"/>
<path d="M833.88 746.08Q836.21 750.57 843.43 748.82Q838.23 743.50 833.88 746.08Z"/>
<path d="M833.88 746.08Q838.11 746.87 840.72 741.10Q834.44 741.81 833.88 746.08Z"/>
<path d="M840.09 743.66Q843.47 747.42 850.02 743.90Q843.65 740.06 840.09 743.66Z"/>
<path d="M840.09 743.66Q844.38 743.35 845.46 737.12Q839.55 739.38 840.09 743.66Z"/>
<path d="M845.48 739.75Q849.71 742.54 855.16 737.48Q848.03 735.37 845.48 739.75Z"/>
<path d="M845.48 739.75Q849.56 738.37 849.03 732.07Q843.89 735.75 845.48 739.75Z"/>
<path d="M849.72 734.61Q854.51 736.24 858.51 729.98Q851.08 729.73 849.72 734.61Z"/>
<path d="M849.72 734.61Q853.32 732.25 851.22 726.28Q847.17 731.14 849.72 734.61Z"/>
<path d="M852.53 728.57Q857.58 728.94 859.86 721.87Q852.61 723.50 852.53 728.57Z"/>
<path d="M852.53 728.57Q855.42 725.37 851.88 720.13Q849.18 725.85 852.53 728.57Z"/>
<path d="M853.72 722.01Q858.70 721.10 859.13 713.68Q852.53 717.09 853.72 722.01Z"/>
<path d="M853.72 722.01Q855.71 718.19 850.96 714.01Q849.80 720.23 853.72 722.01Z"/>
<path d="M853.22 715.37Q857.81 713.23 856.35 705.94Q850.82 710.91 853.22 715.37Z"/>
<path d="M853.22 715.37Q854.18 711.17 848.53 708.32Q848.97 714.63 853.22 715.37Z"/>
<path d="M851.06 709.06Q854.96 705.84 851.72 699.15Q847.62 705.35 851.06 709.06Z"/>
<path d="M851.06 709.06Q850.94 704.76 844.75 703.42Q846.77 709.42 851.06 709.06Z"/>
<path d="M817.60 752.84Q826.80 749.62 845.20 746.86L844.28 748.70Q828.64 750.26 818.98 753.30Z"/>
<path d="M837.38 752.84Q828.18 749.62 809.78 746.86L810.70 748.70Q826.34 750.26 836.00 753.30Z"/>
</g>
<ellipse cx="827.26" cy="719.90" rx="1.1" ry="2" fill="#fff"/>
<text class="lg" x="828.2" y="762.6" text-anchor="middle">WMO Lead Centre for</text>
<text class="lg" x="827.6" y="772.2" text-anchor="middle">SP MME</text>
</svg></body></html>
